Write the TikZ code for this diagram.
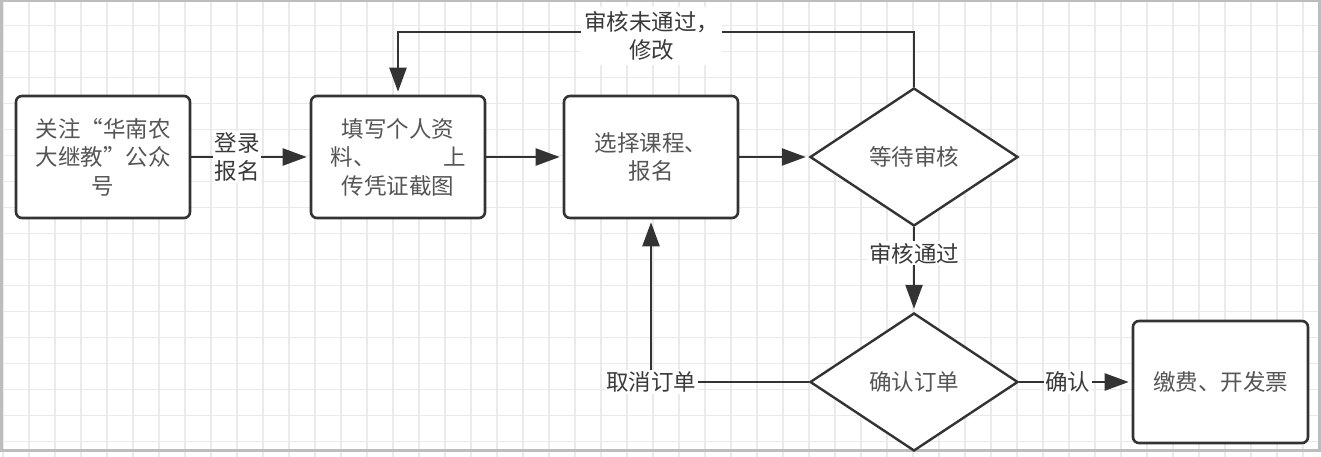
\documentclass[tikz,border=0pt]{standalone}
\usepackage{fontspec}
\newfontfamily\cjk{Noto Sans CJK SC}
\usetikzlibrary{shapes.geometric,arrows.meta}
\definecolor{linec}{HTML}{333333}
\definecolor{textc}{HTML}{555555}
\definecolor{labelc}{HTML}{3A3A3A}
\definecolor{gridc}{HTML}{EAEAEA}
\definecolor{framec}{HTML}{BDBDBD}
\begin{document}
\begin{tikzpicture}[x=1pt,y=-1pt,
  txt/.style={font=\cjk\fontsize{22.5}{28.5}\selectfont},
  stepbox/.style={txt, draw=linec, line width=2.6pt, rounded corners=6pt, fill=white,
    minimum width=174pt, minimum height=122pt, inner sep=0pt, align=center, text=textc},
  decision/.style={txt, diamond, draw=linec, line width=2.4pt, fill=white,
    minimum width=208pt, minimum height=138pt, inner sep=0pt, aspect=1.5, text=textc},
  conn/.style={draw=linec, line width=2.4pt},
  arr/.style={conn, -{Triangle[length=24pt,width=17pt]}, shorten >=3pt},
  lbl/.style={txt, fill=white, text=labelc, inner sep=1.5pt, align=center},
  gridline/.style={draw=gridc, line width=1.3pt}]
\useasboundingbox (0,0) rectangle (1321,457);
\fill[white] (0,0) rectangle (1321,457);
\foreach \x in {3,29,...,1321} \draw[gridline] (\x,0) -- (\x,457);
\foreach \y in {25.5,51.5,...,457} \draw[gridline] (0,\y) -- (1321,\y);
\draw[framec, line width=3pt] (1.5,1) rectangle (1319,450.5);

\node[stepbox] (b1) at (103,157) {关注“华南农\\大继教”公众\\号};
\node[stepbox] (b2) at (398,157) {填写个人资\\料、\hspace{3em}上\\传凭证截图};
\node[stepbox] (b3) at (651,157) {选择课程、\\报名};
\node[decision] (d1) at (914,157) {等待审核};
\node[decision] (d2) at (914,382) {确认订单};
\node[stepbox, minimum width=175pt] (b4) at (1220.5,382) {缴费、开发票};

\draw[arr] (b1) -- node[lbl,pos=0.39]{登录\\报名} (b2);
\draw[arr] (b2) -- (b3);
\draw[arr] (b3) -- (d1);
\draw[arr] (d1.north) -- ++(0,-55) -| node[lbl,pos=0.254,yshift=-4pt,inner xsep=3pt,inner ysep=4pt]{审核未通过，\\修改} (b2.north);
\draw[arr] (d1.south) -- node[lbl,pos=0.31]{审核通过} (d2.north);
\draw[arr] (d2.west) -| node[lbl,pos=0.5]{取消订单} (b3.south);
\draw[arr] (d2.east) -- node[lbl,pos=0.43]{确认} (b4.west);
\end{tikzpicture}
\end{document}
